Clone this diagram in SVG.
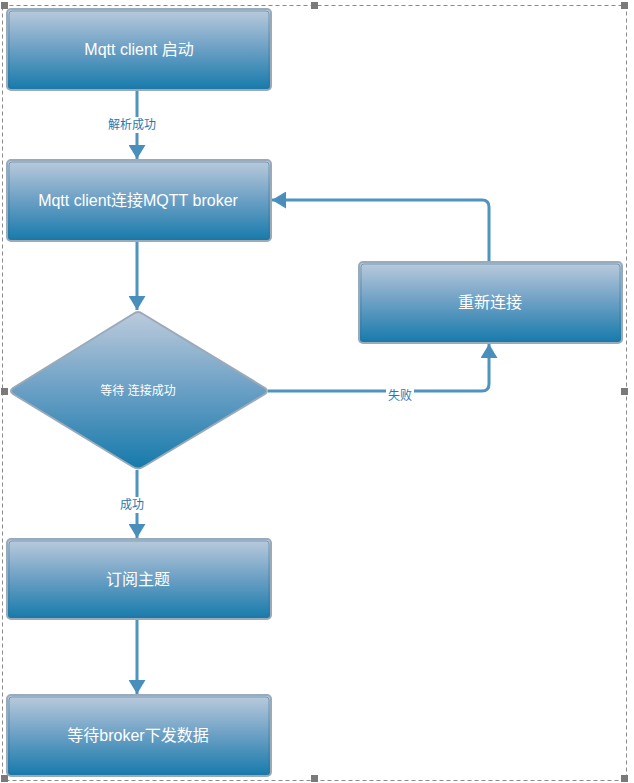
<svg xmlns="http://www.w3.org/2000/svg" width="634" height="783" viewBox="0 0 634 783">
<defs>
<linearGradient id="g" x1="0" y1="0" x2="0" y2="1">
<stop offset="0" stop-color="#bccbdc"/>
<stop offset="0.5" stop-color="#6a9fc4"/>
<stop offset="1" stop-color="#157aab"/>
</linearGradient>
<marker id="ah" viewBox="0 0 14 17" refX="14" refY="8.5" markerWidth="14" markerHeight="17" markerUnits="userSpaceOnUse" orient="auto">
<path d="M0,0 L14,8.5 L0,17 Z" fill="#4a8fbc"/>
</marker>
<style>
.box{fill:url(#g);stroke:#9aaab9;stroke-width:2}
.inner{fill:none;stroke:#2f6f94;stroke-width:1;opacity:0.5}
.t{font-family:"Liberation Sans","Noto Sans CJK SC",sans-serif;font-size:16px;fill:#ffffff;text-anchor:middle;dominant-baseline:central}
.lbl{font-family:"Liberation Sans","Noto Sans CJK SC",sans-serif;font-size:12px;fill:#1f7ab2;text-anchor:middle;dominant-baseline:central}
.c{fill:none;stroke:#4f93bf;stroke-width:3}
.frame{fill:none;stroke:#8a8a8a;stroke-width:1;stroke-dasharray:4 3}
.h{fill:#7a7a7a}
</style>
</defs>
<rect x="0" y="0" width="634" height="783" fill="#ffffff"/>
<g id="frame">
<rect class="frame" x="2.5" y="5.5" width="624" height="775"/>
<rect class="h" x="1" y="2" width="7" height="7"/>
<rect class="h" x="311" y="2" width="7" height="7"/>
<rect class="h" x="621" y="2" width="7" height="7"/>
<rect class="h" x="1" y="388" width="7" height="7"/>
<rect class="h" x="621" y="388" width="7" height="7"/>
<rect class="h" x="1" y="775" width="7" height="7"/>
<rect class="h" x="311" y="775" width="7" height="7"/>
<rect class="h" x="621" y="775" width="7" height="7"/>
</g>
<g id="connectors">
<path class="c" d="M137,90 V159" marker-end="url(#ah)"/>
<path class="c" d="M137,241 V310" marker-end="url(#ah)"/>
<path class="c" d="M268,391 H482 Q489,391 489,384 V344" marker-end="url(#ah)"/>
<path class="c" d="M489,262 V207 Q489,200 482,200 H272" marker-end="url(#ah)"/>
<path class="c" d="M137,470 V538" marker-end="url(#ah)"/>
<path class="c" d="M137,619 V694" marker-end="url(#ah)"/>
<rect x="106" y="117" width="52" height="16" fill="#ffffff"/>
<text class="lbl" x="132" y="125">解析成功</text>
<rect x="386" y="388" width="28" height="16" fill="#ffffff"/>
<text class="lbl" x="400" y="396">失败</text>
<rect x="118" y="497" width="28" height="16" fill="#ffffff"/>
<text class="lbl" x="132" y="505">成功</text>
</g>
<g id="n1">
<rect class="box" x="7" y="9" width="264" height="81" rx="4"/>
<rect class="inner" x="9" y="11" width="260" height="77" rx="3"/>
<text class="t" x="139" y="49">Mqtt client 启动</text>
</g>
<g id="n2">
<rect class="box" x="7" y="160" width="264" height="81" rx="4"/>
<rect class="inner" x="9" y="162" width="260" height="77" rx="3"/>
<text class="t" x="138" y="200">Mqtt client连接MQTT broker</text>
</g>
<g id="n3">
<path class="box" d="M138,312 Q140,312 143,314 L265,388 Q269,391 265,394 L143,467 Q138,470 133,467 L13,394 Q9,391 13,388 L133,314 Q136,312 138,312 Z"/>
<text class="t" x="138" y="391" style="font-size:12px">等待 连接成功</text>
</g>
<g id="n4">
<rect class="box" x="359" y="262" width="263" height="81" rx="4"/>
<rect class="inner" x="361" y="264" width="259" height="77" rx="3"/>
<text class="t" x="490" y="302">重新连接</text>
</g>
<g id="n5">
<rect class="box" x="7" y="539" width="264" height="80" rx="4"/>
<rect class="inner" x="9" y="541" width="260" height="76" rx="3"/>
<text class="t" x="138" y="579">订阅主题</text>
</g>
<g id="n6">
<rect class="box" x="7" y="695" width="264" height="81" rx="4"/>
<rect class="inner" x="9" y="697" width="260" height="77" rx="3"/>
<text class="t" x="138" y="735">等待broker下发数据</text>
</g>
</svg>
